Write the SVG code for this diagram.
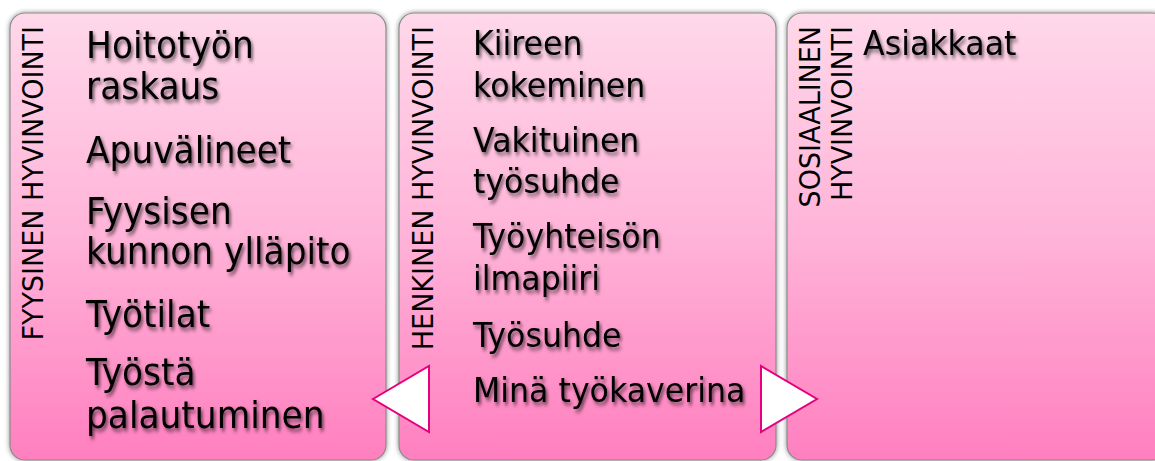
<svg xmlns="http://www.w3.org/2000/svg" width="1155" height="461" viewBox="0 0 1155 461">
<defs>
<linearGradient id="pink" x1="0" y1="0" x2="0" y2="1">
<stop offset="0" stop-color="#ffd8ea"/>
<stop offset="0.5" stop-color="#ffb3d8"/>
<stop offset="1" stop-color="#ff7fbf"/>
</linearGradient>
<filter id="boxsh" x="-5%" y="-5%" width="110%" height="110%">
<feDropShadow dx="0" dy="0" stdDeviation="2.5" flood-color="#000" flood-opacity="0.45"/>
</filter>
<filter id="txtsh" x="-10%" y="-20%" width="120%" height="150%">
<feDropShadow dx="2" dy="3" stdDeviation="2" flood-color="#000" flood-opacity="0.6"/>
</filter>
</defs>
<style>
.box{fill:url(#pink);stroke:#8a8a8a;stroke-width:1.2}
.item{font-family:"DejaVu Sans",Verdana,sans-serif;fill:#000;filter:url(#txtsh)}
.i1{font-size:37px}
.i2{font-size:34px}
.lab{font-family:"DejaVu Sans",Verdana,sans-serif;font-size:29px;fill:#000;text-anchor:end}
.arr{fill:#fff;stroke:#e6007e;stroke-width:2;stroke-linejoin:miter}
</style>
<rect width="1155" height="461" fill="#fff"/>
<g id="node-fyysinen">
<rect class="box" filter="url(#boxsh)" x="10" y="13" width="376" height="447" rx="15" ry="15"/>
<text class="lab" transform="translate(43,26) rotate(-90) scale(0.93,1)" x="0" y="0">FYYSINEN HYVINVOINTI</text>
<g class="item i1" transform="scale(0.93,1)">
<text x="92.5" y="58">Hoitotyön</text>
<text x="92.5" y="99">raskaus</text>
<text x="92.5" y="163">Apuvälineet</text>
<text x="92.5" y="224">Fyysisen</text>
<text x="92.5" y="264">kunnon ylläpito</text>
<text x="92.5" y="327">Työtilat</text>
<text x="92.5" y="385">Työstä</text>
<text x="92.5" y="428">palautuminen</text>
</g>
</g>
<g id="node-henkinen">
<rect class="box" filter="url(#boxsh)" x="399" y="13" width="377" height="447" rx="15" ry="15"/>
<text class="lab" transform="translate(433,26) rotate(-90) scale(0.93,1)" x="0" y="0">HENKINEN HYVINVOINTI</text>
<g class="item i2" transform="scale(0.93,1)">
<text x="508.6" y="55">Kiireen</text>
<text x="508.6" y="97">kokeminen</text>
<text x="508.6" y="152">Vakituinen</text>
<text x="508.6" y="193">työsuhde</text>
<text x="508.6" y="248">Työyhteisön</text>
<text x="508.6" y="290">ilmapiiri</text>
<text x="508.6" y="347">Työsuhde</text>
<text x="508.6" y="402">Minä työkaverina</text>
</g>
</g>
<g id="node-sosiaalinen">
<rect class="box" filter="url(#boxsh)" x="787" y="13" width="380" height="447" rx="15" ry="15"/>
<text class="lab" transform="translate(820,26) rotate(-90) scale(0.93,1)" x="0" y="0">SOSIAALINEN</text>
<text class="lab" transform="translate(852,26) rotate(-90) scale(0.93,1)" x="0" y="0">HYVINVOINTI</text>
<g class="item i2" transform="scale(0.93,1)">
<text x="928" y="55">Asiakkaat</text>
</g>
</g>
<g id="connectors">
<polygon class="arr" points="373,399 429,366 429,432"/>
<polygon class="arr" points="761,366 761,432 817,399"/>
</g>
</svg>
